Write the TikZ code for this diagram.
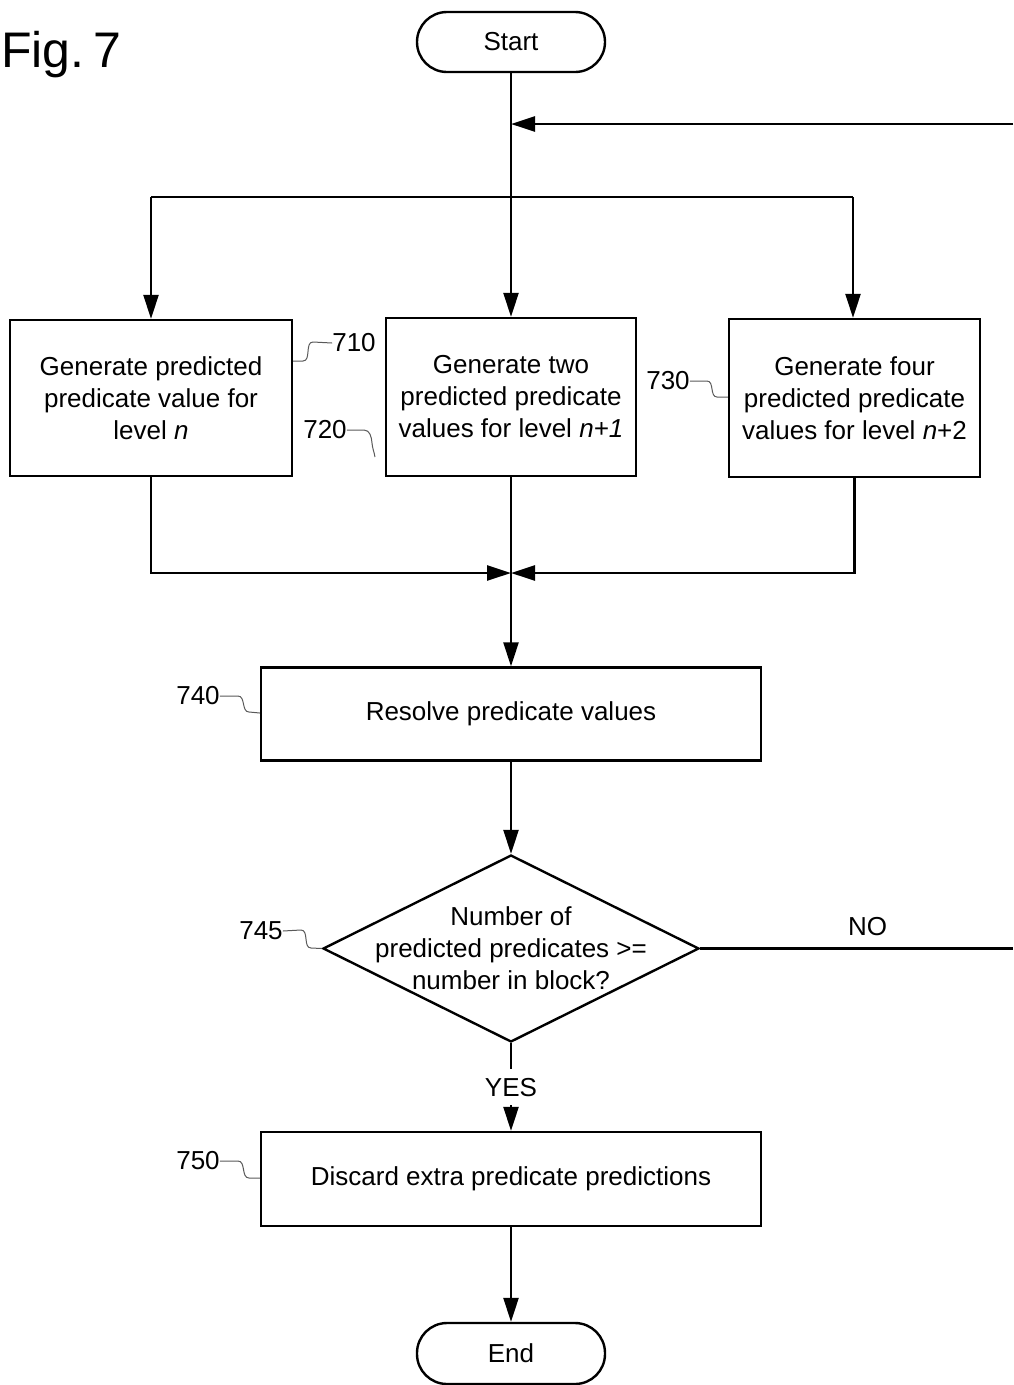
\documentclass[tikz,border=0pt]{standalone}
\usepackage{fontspec}
\setmainfont{Liberation Sans}
\usetikzlibrary{arrows.meta,shapes.geometric}

\tikzset{
  base/.style={font=\fontsize{26}{32}\selectfont},
  procbox/.style={base, draw, line width=2.4pt, align=center, inner sep=0pt},
  term/.style={base, draw, line width=2.4pt, rounded corners=30pt,
    minimum width=188pt, minimum height=60pt, inner sep=0pt},
  decision/.style={draw, diamond, line width=2.4pt, inner sep=0pt},
  flow/.style={line width=2.6pt},
  arr/.style={flow, -{Triangle[length=24pt,width=15pt]}},
  leader/.style={draw=black!65, line width=1pt},
  refnum/.style={base, inner sep=0pt},
}

\begin{document}
\begin{tikzpicture}[x=1pt,y=-1pt]
\useasboundingbox (0,0) rectangle (1013,1385);

% figure title
\node[anchor=base west, font=\fontsize{50}{56}\selectfont, inner sep=0pt] (fig) at (1,67) {Fig.\hspace{0.17em}7};

% terminals and process steps
\node[term] (start) at (511,42) {Start};
\node[procbox, minimum width=282pt, minimum height=156pt] (b710) at (151,398)
  {Generate predicted\\predicate value for\\level \textit{n}};
\node[procbox, minimum width=250pt, minimum height=158pt] (b720) at (511,397)
  {Generate two\\predicted predicate\\values for level \textit{n+1}};
\node[procbox, minimum width=251pt, minimum height=158pt] (b730) at (854.5,398)
  {Generate four\\predicted predicate\\values for level \textit{n}+2};
\node[procbox, minimum width=500pt, minimum height=93pt] (b740) at (511,714)
  {Resolve predicate values};
\node[decision, minimum width=376pt, minimum height=187pt] (d745) at (511,948.5) {};
\node[base, align=center, inner sep=0pt] (q745) at (511,948)
  {Number of\\predicted predicates >=\\number in block?};
\node[procbox, minimum width=500pt, minimum height=94pt] (b750) at (511,1179)
  {Discard extra predicate predictions};
\node[term, minimum height=61pt] (end) at (511,1353.5) {End};

% junction points and off-page ends
\coordinate (feedJ) at (511,124);
\coordinate (feedR) at (1013,124);
\coordinate (split) at (511,197);
\coordinate (merge) at (511,573);
\coordinate (noEnd) at (1013,948.5);

% connectors
\draw[flow] (start.south) -- (split);
\draw[arr] (feedR) -- (feedJ);
\draw[flow] (split -| b710) -- (split -| 853,0);
\draw[arr] (split -| b710) -- (b710.north);
\draw[arr] (split) -- (b720.north);
\draw[arr] (split -| 853,0) -- (b730.north -| 853,0);
\draw[arr] (b710.south) |- (merge);
\draw[arr] (b730.south) |- (merge);
\draw[arr] (b720.south) -- (b740.north);
\draw[arr] (b740.south) -- (d745.north);
\draw[arr] (d745.south) -- node[base, fill=white, text height=18.6pt, text depth=0pt,
  inner ysep=9pt, inner xsep=4pt] (yes) {YES} (b750.north);
\draw[flow] (d745.east) -- node[base, pos=0.535, anchor=south, inner sep=0pt, yshift=11pt] (no) {NO} (noEnd);
\draw[arr] (b750.south) -- (end.north);

% reference numerals with their leader lines
\node[refnum] (l710) at (354,343) {710};
\coordinate (c710) at (b710.east |- 0,361);
\draw[leader] (c710) -- (303,361) to[out=0,in=180] (313,342) -- (l710.west);

\node[refnum] (l720) at (325,430) {720};
\coordinate (c720) at (375,457);
\draw[leader] (l720.east) -- (364,430) to[out=0,in=95] (372,443) to[out=-85,in=100] (c720);

\node[refnum] (l730) at (668,381) {730};
\coordinate (c730) at (b730.west |- 0,397);
\draw[leader] (l730.east) -- (707,381) to[out=0,in=180] (717,397) -- (c730);

\node[refnum] (l740) at (198,696) {740};
\coordinate (c740) at (b740.west |- 0,713);
\draw[leader] (l740.east) -- (238,696) to[out=0,in=180] (249,712) -- (c740);

\node[refnum] (l745) at (261,931) {745};
\draw[leader] (l745.east) -- (301,930) to[out=0,in=180] (311,948) -- (d745.west);

\node[refnum] (l750) at (198,1161) {750};
\coordinate (c750) at (b750.west |- 0,1178);
\draw[leader] (l750.east) -- (238,1161) to[out=0,in=180] (249,1178) -- (c750);
\end{tikzpicture}
\end{document}
